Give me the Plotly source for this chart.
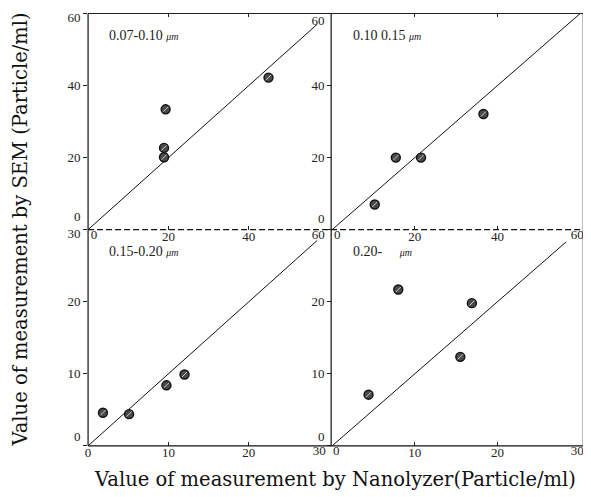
import plotly.graph_objects as go

# ---------------- data ----------------
tl_x = [19.3, 18.9, 18.9, 44.9]
tl_y = [33.4, 22.7, 20.1, 42.2]
tr_x = [10.3, 15.4, 21.5, 36.6]
tr_y = [7.0, 20.0, 20.0, 32.1]
bl_x = [1.85, 5.1, 9.75, 12.0]
bl_y = [4.6, 4.4, 8.4, 9.9]
br_x = [4.4, 8.0, 15.5, 16.9]
br_y = [7.1, 21.7, 12.35, 19.8]

diag_tl = [0, 57]
diag_tr = [0, 60]
diag_bl = [0, 28.5]
diag_br = [0, 28.3]

panel_labels = ["0.07-0.10", "0.10 0.15", "0.15-0.20", "0.20-"]
unit_label = "μm"
top_ticks = [0, 20, 40, 60]
bottom_ticks = [0, 10, 20, 30]
x_title = "Value of measurement by Nanolyzer(Particle/ml)"
y_title = "Value of measurement by SEM (Particle/ml)"

# ---------------- layout geometry ----------------
W, H = 591, 497
PAGE_OFFSET = 8  # default body margin of the html page


def px(v):
    return (v - PAGE_OFFSET) / W


def py(v):
    return 1 - (v - PAGE_OFFSET) / H


col_l = (86, 330)
col_r = (333, 584)
row_t = (228, 10.5)
row_b = (445.5, 228)

TICK_FONT = dict(family="Liberation Serif", size=13, color="#222")
X_STANDOFF = -5

# shifts in px: x -> rightwards positive, y -> upwards positive
panels = [
    dict(xd=col_l, yd=row_t, rng=60, x=tl_x, y=tl_y, diag=diag_tl, ticks=top_ticks,
         label=panel_labels[0], unit_gap=" ",
         xshift={0: 6, 60: -11}, yshift={60: -4, 0: 13}, yomit=[], mirror=True),
    dict(xd=col_r, yd=row_t, rng=60, x=tr_x, y=tr_y, diag=diag_tr, ticks=top_ticks,
         label=panel_labels[1], unit_gap=" ",
         xshift={0: 5, 60: -3}, yshift={60: -7, 0: 11}, yomit=[], mirror=True),
    dict(xd=col_l, yd=row_b, rng=30, x=bl_x, y=bl_y, diag=diag_bl, ticks=bottom_ticks,
         label=panel_labels[2], unit_gap=" ",
         xshift={30: -10}, yshift={30: -4, 0: 9}, yomit=[], mirror=False),
    dict(xd=col_r, yd=row_b, rng=30, x=br_x, y=br_y, diag=diag_br, ticks=bottom_ticks,
         label=panel_labels[3], unit_gap="\u00a0\u00a0\u00a0\u00a0\u00a0",
         xshift={0: 4, 30: -3}, yshift={0: 9}, yomit=[30], mirror=False),
]

fig = go.Figure()
layout = dict(
    width=W, height=H,
    margin=dict(l=0, r=0, t=0, b=0),
    paper_bgcolor="white", plot_bgcolor="white",
    showlegend=False,
)

next_x = 5
next_y = 5
annotations = []

for i, p in enumerate(panels, start=1):
    xa = "xaxis" if i == 1 else f"xaxis{i}"
    ya = "yaxis" if i == 1 else f"yaxis{i}"
    xr = "x" if i == 1 else f"x{i}"
    yr = "y" if i == 1 else f"y{i}"
    rng = [0, p["rng"]]

    xt = [("" if v in p["xshift"] else str(v)) for v in p["ticks"]]
    yt = [("" if (v in p["yshift"] or v in p["yomit"]) else str(v)) for v in p["ticks"]]

    layout[xa] = dict(
        domain=[px(p["xd"][0]), px(p["xd"][1])], range=rng, anchor=yr,
        tickvals=p["ticks"], ticktext=xt, ticks="inside", ticklen=4,
        tickcolor="#222", tickwidth=1, showline=True, linecolor="rgba(0,0,0,0)",
        mirror="ticks" if p["mirror"] else False, ticklabelstandoff=X_STANDOFF,
        showgrid=False, zeroline=False, tickfont=TICK_FONT, fixedrange=True,
        color="#222",
    )
    layout[ya] = dict(
        domain=[py(p["yd"][0]), py(p["yd"][1])], range=rng, anchor=xr,
        tickvals=p["ticks"], ticktext=yt, ticks="outside", ticklen=4,
        tickcolor="#222", tickwidth=1, showline=True, linecolor="rgba(0,0,0,0)",
        showgrid=False, zeroline=False, tickfont=TICK_FONT, fixedrange=True,
        color="#222",
    )

    # overlay axes carrying individually nudged end labels
    for v, s in p["xshift"].items():
        name = f"x{next_x}"
        layout[f"xaxis{next_x}"] = dict(
            overlaying=xr, anchor=yr, side="bottom", range=rng,
            tickvals=[v], ticktext=[str(v)], ticks="inside", ticklen=4,
            tickcolor="rgba(0,0,0,0)", ticklabelshift=s, ticklabelstandoff=X_STANDOFF,
            showline=False, showgrid=False, zeroline=False, tickfont=TICK_FONT,
            fixedrange=True, color="#222",
        )
        fig.add_trace(go.Scatter(x=[None], y=[None], xaxis=name, yaxis=yr,
                                 mode="markers", marker=dict(color="#222"),
                                 hoverinfo="skip"))
        next_x += 1
    for v, s in p["yshift"].items():
        name = f"y{next_y}"
        layout[f"yaxis{next_y}"] = dict(
            overlaying=yr, anchor=xr, side="left", range=rng,
            tickvals=[v], ticktext=[str(v)], ticks="outside", ticklen=4,
            tickcolor="rgba(0,0,0,0)", ticklabelshift=-s, showline=False,
            showgrid=False, zeroline=False, tickfont=TICK_FONT, fixedrange=True,
            color="#222",
        )
        fig.add_trace(go.Scatter(x=[None], y=[None], xaxis=xr, yaxis=name,
                                 mode="markers", marker=dict(color="#222"),
                                 hoverinfo="skip"))
        next_y += 1

    # y = x reference line
    fig.add_trace(go.Scatter(
        x=p["diag"], y=p["diag"], mode="lines", xaxis=xr, yaxis=yr,
        line=dict(color="#111", width=1), hoverinfo="skip", cliponaxis=False,
    ))
    # data points
    fig.add_trace(go.Scatter(
        x=p["x"], y=p["y"], mode="markers", xaxis=xr, yaxis=yr,
        marker=dict(size=9, color="#4a4a4a", line=dict(color="#111", width=1.4)),
        cliponaxis=False,
    ))
    fig.add_trace(go.Scatter(
        x=p["x"], y=p["y"], mode="markers", xaxis=xr, yaxis=yr,
        marker=dict(size=5, symbol="line-ne", line=dict(color="#c8c8c8", width=1)),
        hoverinfo="skip", cliponaxis=False,
    ))

    annotations.append(dict(
        xref=f"{xr} domain", yref=f"{yr} domain", x=0.078, y=0.9,
        xanchor="left", yanchor="middle", showarrow=False,
        text=f"{p['label']}{p['unit_gap']}<i><span style='font-size:10px'>{unit_label}</span></i>",
        font=dict(family="Liberation Serif", size=14, color="#222"),
    ))

# frame lines (solid outer + middle vertical, dashed middle horizontal)
L, M, R = px(86), px(332), px(587)
T, C, B = py(10.5), py(228), py(445.5)
shapes = [
    dict(type="line", xref="paper", yref="paper", x0=L, x1=L, y0=B, y1=T,
         line=dict(color="#111", width=1.2)),
    dict(type="line", xref="paper", yref="paper", x0=M, x1=M, y0=B, y1=T,
         line=dict(color="#111", width=1.2)),
    dict(type="line", xref="paper", yref="paper", x0=R, x1=R, y0=B, y1=T,
         line=dict(color="#444", width=1)),
    dict(type="line", xref="paper", yref="paper", x0=L, x1=R, y0=T, y1=T,
         line=dict(color="#222", width=1)),
    dict(type="line", xref="paper", yref="paper", x0=L, x1=R, y0=B, y1=B,
         line=dict(color="#111", width=1.2)),
    dict(type="line", xref="paper", yref="paper", x0=L, x1=R, y0=C, y1=C,
         line=dict(color="#111", width=1.2, dash="6px,3px")),
]

annotations.append(dict(
    xref="paper", yref="paper", x=px(336), y=py(479), xanchor="center", yanchor="middle",
    showarrow=False, text=x_title,
    font=dict(family="DejaVu Serif", size=19.5, color="#111"),
))
annotations.append(dict(
    xref="paper", yref="paper", x=px(18), y=py(228), xanchor="center", yanchor="middle",
    showarrow=False, text=y_title, textangle=-90,
    font=dict(family="DejaVu Serif", size=19.5, color="#111"),
))

layout["shapes"] = shapes
layout["annotations"] = annotations
fig.update_layout(**layout)

fig.write_html("out.html", config={"displayModeBar": False})
